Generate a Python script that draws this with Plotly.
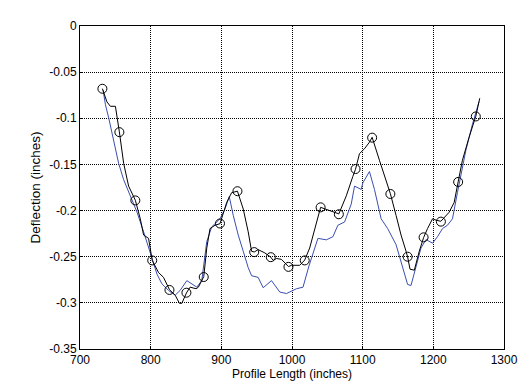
import plotly.graph_objects as go

# Black (measured) profile line
black_x = [731.7, 738.1, 743.0, 750.1, 755.7, 761.8, 768.8, 778.3, 785.3, 790.0, 797.0, 802.2,
           811.1, 818.2, 826.6, 834.7, 840.7, 844.1, 850.6, 855.8, 864.3, 867.5, 875.1, 879.4,
           884.0, 891.1, 898.1, 907.6, 914.6, 922.8, 931.0, 938.0, 942.8, 946.5, 952.1, 961.6,
           970.0, 973.3, 978.1, 985.1, 995.0, 999.2, 1010.9, 1018.0, 1025.0, 1032.1, 1040.5,
           1066.3, 1076.8, 1086.1, 1089.9, 1095.5, 1102.6, 1109.6, 1113.4, 1123.7, 1132.2,
           1139.2, 1147.3, 1154.3, 1161.4, 1163.6, 1167.0, 1173.1, 1180.1, 1186.2, 1191.8,
           1198.9, 1204.5, 1210.7, 1222.4, 1229.5, 1235.1, 1241.2, 1250.6, 1260.1, 1265.7]
black_y = [-0.0679, -0.0822, -0.0870, -0.0870, -0.1147, -0.1489, -0.1735, -0.1888, -0.2089,
           -0.2265, -0.2301, -0.2540, -0.2671, -0.2724, -0.2857, -0.2917, -0.3005, -0.3005,
           -0.2893, -0.2830, -0.2847, -0.2830, -0.2716, -0.2406, -0.2195, -0.2159, -0.2142,
           -0.1912, -0.1806, -0.1790, -0.1983, -0.2230, -0.2441, -0.2449, -0.2423, -0.2459,
           -0.2505, -0.2540, -0.2519, -0.2529, -0.2607, -0.2593, -0.2593, -0.2536, -0.2406,
           -0.2195, -0.1965, -0.2036, -0.1841, -0.1630, -0.1552, -0.1383, -0.1330, -0.1259,
           -0.1206, -0.1454, -0.1666, -0.1817, -0.2053, -0.2265, -0.2441, -0.2502, -0.2635,
           -0.2646, -0.2441, -0.2293, -0.2195, -0.2089, -0.2106, -0.2116, -0.2018, -0.1912,
           -0.1690, -0.1454, -0.1206, -0.0978, -0.0783]

# Circle markers on the black profile
marker_x = [731.7, 755.7, 778.3, 802.2, 826.6, 850.6, 875.1, 898.1, 922.8, 946.5, 970.0, 995.0,
            1018.0, 1040.5, 1066.3, 1089.9, 1113.4, 1139.2, 1163.6, 1186.2, 1210.7, 1235.1, 1260.1]
marker_y = [-0.068, -0.115, -0.189, -0.254, -0.286, -0.289, -0.272, -0.214, -0.179, -0.245,
            -0.2505, -0.261, -0.254, -0.1965, -0.204, -0.155, -0.121, -0.182, -0.250, -0.229,
            -0.212, -0.169, -0.098]

# Blue profile line
blue_x = [732.7, 736.0, 740.6, 745.4, 750.1, 754.7, 761.8, 771.2, 780.7, 790.0, 797.0, 801.8,
          808.9, 815.9, 825.2, 834.7, 841.7, 851.2, 858.2, 865.3, 872.3, 879.4, 886.4, 898.1,
          905.2, 911.2, 916.9, 923.9, 931.0, 938.0, 942.8, 952.1, 959.2, 971.0, 982.7, 992.2,
          1006.3, 1015.6, 1024.0, 1031.0, 1036.7, 1048.6, 1057.9, 1064.9, 1074.4, 1083.8,
          1088.5, 1097.9, 1100.2, 1109.6, 1116.7, 1126.1, 1135.4, 1147.3, 1154.3, 1159.0,
          1163.6, 1168.4, 1175.5, 1182.5, 1189.6, 1198.9, 1205.9, 1213.0, 1220.0, 1227.1,
          1234.1, 1246.0, 1255.3, 1264.7]
blue_y = [-0.0695, -0.0854, -0.0995, -0.1171, -0.1312, -0.1489, -0.1666, -0.1841, -0.2018,
          -0.2230, -0.2406, -0.2512, -0.2688, -0.2794, -0.2865, -0.2917, -0.2865, -0.2759,
          -0.2794, -0.2830, -0.2759, -0.2335, -0.2177, -0.2089, -0.1983, -0.1849, -0.2053,
          -0.2265, -0.2441, -0.2618, -0.2706, -0.2724, -0.2836, -0.2759, -0.2883, -0.2899,
          -0.2847, -0.2830, -0.2600, -0.2441, -0.2301, -0.2317, -0.2283, -0.2159, -0.2124,
          -0.1930, -0.1735, -0.1771, -0.1701, -0.1577, -0.1771, -0.2089, -0.2195, -0.2370,
          -0.2547, -0.2688, -0.2801, -0.2812, -0.2618, -0.2406, -0.2314, -0.2353, -0.2283,
          -0.2195, -0.2159, -0.2089, -0.1806, -0.1348, -0.1066, -0.0819]

x_ticks = [700, 800, 900, 1000, 1100, 1200, 1300]
y_ticks = [0, -0.05, -0.1, -0.15, -0.2, -0.25, -0.3, -0.35]
y_tick_labels = ["0", "-0.05", "-0.1", "-0.15", "-0.2", "-0.25", "-0.3", "-0.35"]

fig = go.Figure()
fig.add_trace(go.Scatter(x=blue_x, y=blue_y, mode="lines",
                         line=dict(color="#3a4fb0", width=1), showlegend=False))
fig.add_trace(go.Scatter(x=black_x, y=black_y, mode="lines",
                         line=dict(color="black", width=1), showlegend=False))
fig.add_trace(go.Scatter(x=marker_x, y=marker_y, mode="markers",
                         marker=dict(symbol="circle-open", size=9, color="black",
                                     line=dict(width=1, color="black")),
                         showlegend=False))

font = dict(family="Liberation Sans, Arial, sans-serif", size=12, color="black")
ytitle_font = dict(family="Liberation Sans, Arial, sans-serif", size=13.5, color="black")
grid_dash = "1px,1px"

fig.update_layout(
    width=521, height=381,
    margin=dict(l=72, r=16, t=11, b=31),
    paper_bgcolor="white", plot_bgcolor="white",
    font=font,
    xaxis=dict(range=[700, 1300], tickvals=x_ticks, ticktext=[str(v) for v in x_ticks],
               showgrid=True, gridcolor="black", griddash=grid_dash, gridwidth=1,
               showline=True, linecolor="black", linewidth=1, mirror=True,
               ticks="inside", ticklen=3, tickcolor="black", zeroline=False,
               title=dict(text="Profile Length (inches)", standoff=2, font=font)),
    yaxis=dict(range=[-0.35, 0], tickvals=y_ticks, ticktext=y_tick_labels,
               showgrid=True, gridcolor="black", griddash=grid_dash, gridwidth=1,
               showline=True, linecolor="black", linewidth=1, mirror=True,
               ticks="inside", ticklen=3, tickcolor="black", zeroline=False,
               title=dict(text="Deflection (inches)", standoff=5, font=ytitle_font)),
)

fig.write_html("out.html")
